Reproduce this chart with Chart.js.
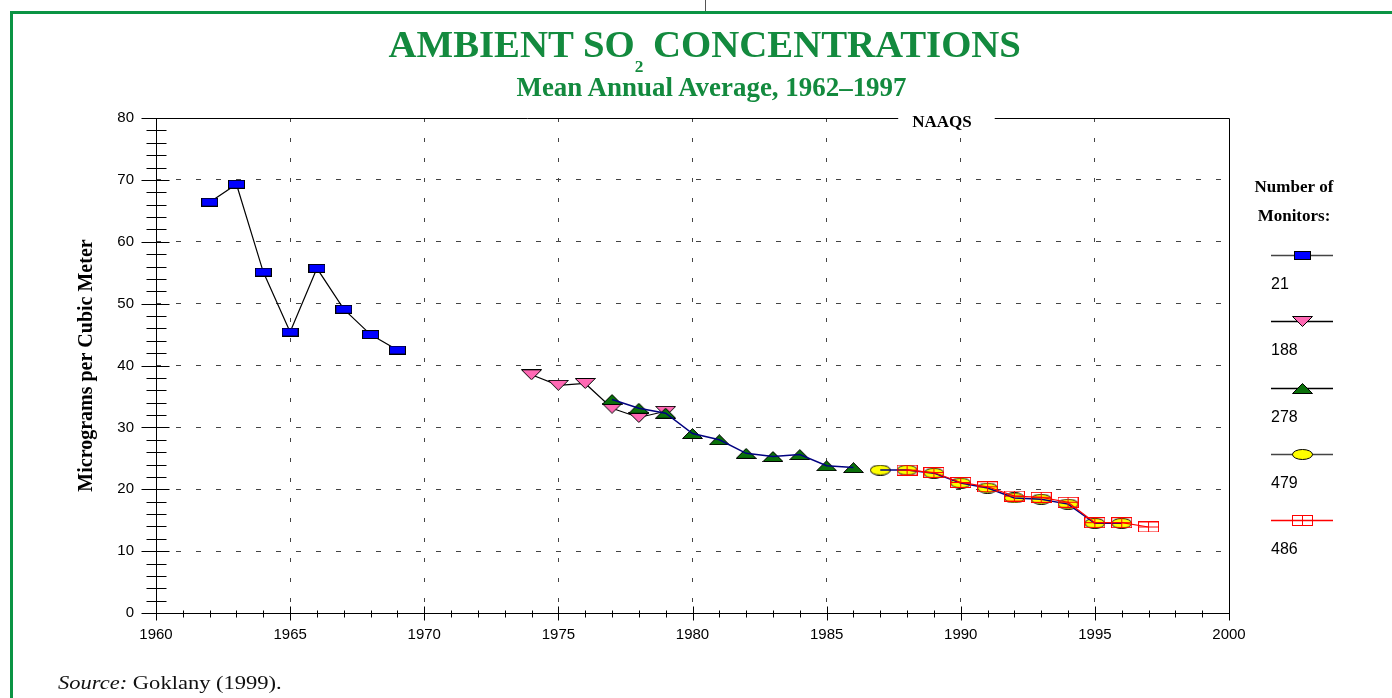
<!DOCTYPE html>
<html>
<head>
<meta charset="utf-8">
<script src="https://cdn.jsdelivr.net/npm/chart.js@4"></script>
<style>
  html, body { margin: 0; padding: 0; background: #fff; }
  #wrap { position: relative; width: 1392px; height: 698px; overflow: hidden; }
  #c { position: absolute; left: 0; top: 0; }
  .frameTop { position: absolute; left: 10px; top: 11px; width: 1382px; height: 3px; background: #0b9444; }
  .frameLeft { position: absolute; left: 10px; top: 11px; width: 3px; height: 687px; background: #0b9444; }
  .pageTick { position: absolute; left: 705px; top: 0; width: 1px; height: 11px; background: #555; }
  .head { position: absolute; width: 1000px; text-align: center; white-space: nowrap;
          font-family: "Liberation Serif", serif; font-weight: bold; color: #138a3e; }
  .head .t { display: inline-block; transform-origin: center center; }
  #title { left: 205px; top: 25px; font-size: 38px; line-height: 38px; }
  #title sub { font-size: 17px; vertical-align: baseline; position: relative; top: 15px; }
  #sub { left: 211px; top: 74px; font-size: 27px; line-height: 27px; }
  #src { position: absolute; left: 58px; top: 674px; font-family: "Liberation Serif", serif;
         font-size: 18px; line-height: 18px; white-space: nowrap; transform-origin: left center; color: #111; }
</style>
</head>
<body>
<div id="wrap">
  <canvas id="c" width="1392" height="698"></canvas>
  <div class="frameTop"></div>
  <div class="frameLeft"></div>
  <div class="pageTick"></div>
  <div id="title" class="head"><span class="t">AMBIENT SO<sub>2</sub> CONCENTRATIONS</span></div>
  <div id="sub" class="head"><span class="t">Mean Annual Average, 1962–1997</span></div>
  <div id="src"><i>Source:</i> Goklany (1999).</div>
</div>
<script>
// ---- data ----
const years21  = [1962, 1963, 1964, 1965, 1966, 1967, 1968, 1969];
const so21     = [66.4, 69.3, 55.1, 45.4, 55.7, 49.1, 45.0, 42.5];
const years188 = [1974, 1975, 1976, 1977, 1978, 1979];
const so188    = [38.5, 36.8, 37.1, 33.1, 31.6, 32.6];
const years278 = [1977, 1978, 1979, 1980, 1981, 1982, 1983, 1984, 1985, 1986];
const so278    = [34.5, 33.1, 32.3, 29.0, 28.0, 25.8, 25.3, 25.6, 23.8, 23.5];
const years479 = [1987, 1988, 1989, 1990, 1991, 1992, 1993, 1994, 1995, 1996];
const so479    = [23.1, 23.1, 22.6, 21.0, 20.2, 18.6, 18.4, 17.6, 14.5, 14.5];
const years486 = [1988, 1989, 1990, 1991, 1992, 1993, 1994, 1995, 1996, 1997];
const so486    = [23.1, 22.7, 21.1, 20.4, 18.9, 18.7, 17.9, 14.6, 14.6, 13.9];
const monitorCounts = ["21", "188", "278", "479", "486"];
const NAAQS = 80;
const X_MIN = 1960, X_MAX = 2000, Y_MIN = 0, Y_MAX = 80;

const BLACK = "#000", NAVY = "#000080", RED = "#ff0000", GRID = "#444";
Chart.defaults.font.family = "'Liberation Sans', Arial, sans-serif";

const pts = (xs, ys) => xs.map((x, i) => ({ x: x, y: ys[i] }));

// marker bitmaps used as pointStyle
function marker(w, h, draw) {
  const c = document.createElement("canvas");
  c.width = w; c.height = h;
  draw(c.getContext("2d"), w, h);
  return c;
}
const RECT = marker(17, 9, (g, w, h) => {
  g.fillStyle = "#0000ff"; g.fillRect(0, 0, w, h);
  g.strokeStyle = "#000"; g.lineWidth = 1; g.strokeRect(0.5, 0.5, w - 1, h - 1);
});
const TRI_DOWN = marker(21, 11, (g, w, h) => {
  g.beginPath(); g.moveTo(0.5, 0.5); g.lineTo(w - 0.5, 0.5); g.lineTo(w / 2, h - 0.5); g.closePath();
  g.fillStyle = "#ff69b4"; g.fill(); g.strokeStyle = "#000"; g.lineWidth = 1; g.stroke();
});
const TRI_UP = marker(21, 11, (g, w, h) => {
  g.beginPath(); g.moveTo(0.5, h - 0.5); g.lineTo(w - 0.5, h - 0.5); g.lineTo(w / 2, 0.5); g.closePath();
  g.fillStyle = "#0a700a"; g.fill(); g.strokeStyle = "#000"; g.lineWidth = 1; g.stroke();
});
const ELLIPSE = marker(21, 11, (g, w, h) => {
  g.beginPath(); g.ellipse(w / 2, h / 2, w / 2 - 0.5, h / 2 - 0.5, 0, 0, Math.PI * 2);
  g.fillStyle = "#ffff00"; g.fill(); g.strokeStyle = "#000"; g.lineWidth = 1; g.stroke();
});
const BOX = marker(21, 11, (g, w, h) => {
  g.strokeStyle = RED; g.lineWidth = 1;
  g.strokeRect(0.5, 0.5, w - 1, h - 1);
  g.beginPath(); g.moveTo(Math.floor(w / 2) + 0.5, 0); g.lineTo(Math.floor(w / 2) + 0.5, h);
  g.moveTo(0, Math.floor(h / 2) + 0.5); g.lineTo(w, Math.floor(h / 2) + 0.5); g.stroke();
});

const legendItems = [
  { label: monitorCounts[0], img: RECT,     line: "#444" },
  { label: monitorCounts[1], img: TRI_DOWN, line: "#000" },
  { label: monitorCounts[2], img: TRI_UP,   line: "#000" },
  { label: monitorCounts[3], img: ELLIPSE,  line: "#444" },
  { label: monitorCounts[4], img: BOX,      line: RED }
];

// axes, minor ticks, frame and NAAQS line
const axesPlugin = {
  id: "axes",
  beforeDatasetsDraw(chart) {
    const { ctx, chartArea: a, scales: { x, y } } = chart;
    const L = Math.round(a.left) + 0.5, R = Math.round(a.right) + 0.5;
    const B = Math.round(a.bottom) + 0.5;
    const T = Math.round(y.getPixelForValue(NAAQS)) + 0.5;
    ctx.save();
    ctx.strokeStyle = BLACK; ctx.lineWidth = 1;
    ctx.beginPath();
    ctx.moveTo(L, T); ctx.lineTo(L, B + 7);
    ctx.moveTo(L, B); ctx.lineTo(R, B);
    ctx.moveTo(R, T); ctx.lineTo(R, B);
    for (let v = Y_MIN; v <= Y_MAX; v += 2) {
      const py = Math.round(y.getPixelForValue(v)) + 0.5, major = v % 10 === 0;
      ctx.moveTo(L - (major ? 15 : 10), py); ctx.lineTo(L + (major ? 13 : 10), py);
    }
    for (let yr = X_MIN + 1; yr <= X_MAX; yr++) {
      const px = Math.round(x.getPixelForValue(yr)) + 0.5, major = yr % 5 === 0;
      ctx.moveTo(px, B - (major ? 7 : 3)); ctx.lineTo(px, B + (major ? 7 : 4));
    }
    ctx.stroke();

    // NAAQS line with its label in a gap
    ctx.font = "bold 17px 'Liberation Serif', serif";
    const cx = x.getPixelForValue(1989.3), tw = ctx.measureText("NAAQS").width;
    ctx.beginPath();
    ctx.moveTo(L, T); ctx.lineTo(cx - tw / 2 - 14, T);
    ctx.moveTo(cx + tw / 2 + 23, T); ctx.lineTo(R, T);
    ctx.stroke();
    ctx.fillStyle = BLACK; ctx.textAlign = "center"; ctx.textBaseline = "alphabetic";
    ctx.fillText("NAAQS", cx, T + 8);
    ctx.restore();
  }
};

const legendPlugin = {
  id: "monitorLegend",
  afterDraw(chart) {
    const { ctx, chartArea: a } = chart;
    const x0 = a.right + 42, x1 = a.right + 104, mx = a.right + 73;
    ctx.save();
    ctx.fillStyle = BLACK; ctx.textAlign = "center"; ctx.textBaseline = "alphabetic";
    ctx.font = "bold 17px 'Liberation Serif', serif";
    ctx.fillText("Number of", a.right + 65, a.top + 74);
    ctx.fillText("Monitors:", a.right + 65, a.top + 103);
    ctx.font = "16px 'Liberation Sans', Arial, sans-serif";
    ctx.textAlign = "left";
    legendItems.forEach((it, i) => {
      const ly = Math.round(a.top + 137 + i * 66.3) + 0.5;
      ctx.strokeStyle = it.line; ctx.lineWidth = 1.3;
      ctx.beginPath(); ctx.moveTo(x0, ly); ctx.lineTo(x1, ly); ctx.stroke();
      ctx.drawImage(it.img, Math.round(mx - it.img.width / 2), Math.round(ly - it.img.height / 2));
      ctx.fillText(it.label, x0, a.top + 171 + i * 66.3);
    });
    ctx.restore();
  }
};

const hideEnds = (lo, hi) => c => (c.tick && (c.tick.value === lo || c.tick.value === hi)) ? "rgba(0,0,0,0)" : GRID;

new Chart(document.getElementById("c"), {
  type: "line",
  data: {
    datasets: [
      { data: pts(years486, so486), borderColor: RED, borderWidth: 1.2, pointStyle: BOX, pointRadius: 5 },
      { data: pts(years479, so479), borderColor: NAVY, borderWidth: 1.5, pointRadius: 0 },
      { data: pts(years278, so278), borderColor: NAVY, borderWidth: 1.5, pointRadius: 0 },
      { data: pts(years479, so479), showLine: false, pointStyle: ELLIPSE, pointRadius: 5 },
      { data: pts(years278, so278), showLine: false, pointStyle: TRI_UP, pointRadius: 5 },
      { data: pts(years188, so188), borderColor: BLACK, borderWidth: 1.2, pointStyle: TRI_DOWN, pointRadius: 5 },
      { data: pts(years21, so21), borderColor: BLACK, borderWidth: 1.2, pointStyle: RECT, pointRadius: 5 }
    ]
  },
  options: {
    responsive: false, animation: false, events: [],
    layout: { padding: { left: 0, top: 118, right: 163, bottom: 0 } },
    elements: { line: { tension: 0, fill: false } },
    plugins: { legend: { display: false }, tooltip: { enabled: false } },
    scales: {
      x: {
        type: "linear", min: X_MIN, max: X_MAX,
        ticks: { stepSize: 5, color: BLACK, font: { size: 15 }, padding: 13, maxRotation: 0, autoSkip: false, callback: v => String(v) },
        grid: { color: hideEnds(X_MIN, X_MAX), lineWidth: 1, drawTicks: false },
        border: { display: false, dash: [4, 16] },
        afterFit: s => { s.height = 85; }
      },
      y: {
        min: Y_MIN, max: Y_MAX,
        ticks: { stepSize: 10, color: BLACK, font: { size: 15 }, padding: 22, callback: v => String(v) },
        grid: { color: hideEnds(Y_MIN, Y_MAX), lineWidth: 1, drawTicks: false },
        border: { display: false, dash: [5, 15] },
        title: { display: true, text: "Micrograms per Cubic Meter", color: BLACK, padding: { top: 75, bottom: 0 },
                 font: { family: "'Liberation Serif', serif", size: 20, weight: "bold" } },
        afterFit: s => { s.width = 156; }
      }
    }
  },
  plugins: [axesPlugin, legendPlugin]
});

// squeeze the serif headings to the reference widths
function fitWidth(el, target) { el.style.transform = "scaleX(" + (target / el.offsetWidth) + ")"; }
fitWidth(document.querySelector("#title .t"), 632);
fitWidth(document.querySelector("#sub .t"), 390);
fitWidth(document.getElementById("src"), 224);
</script>
</body>
</html>
